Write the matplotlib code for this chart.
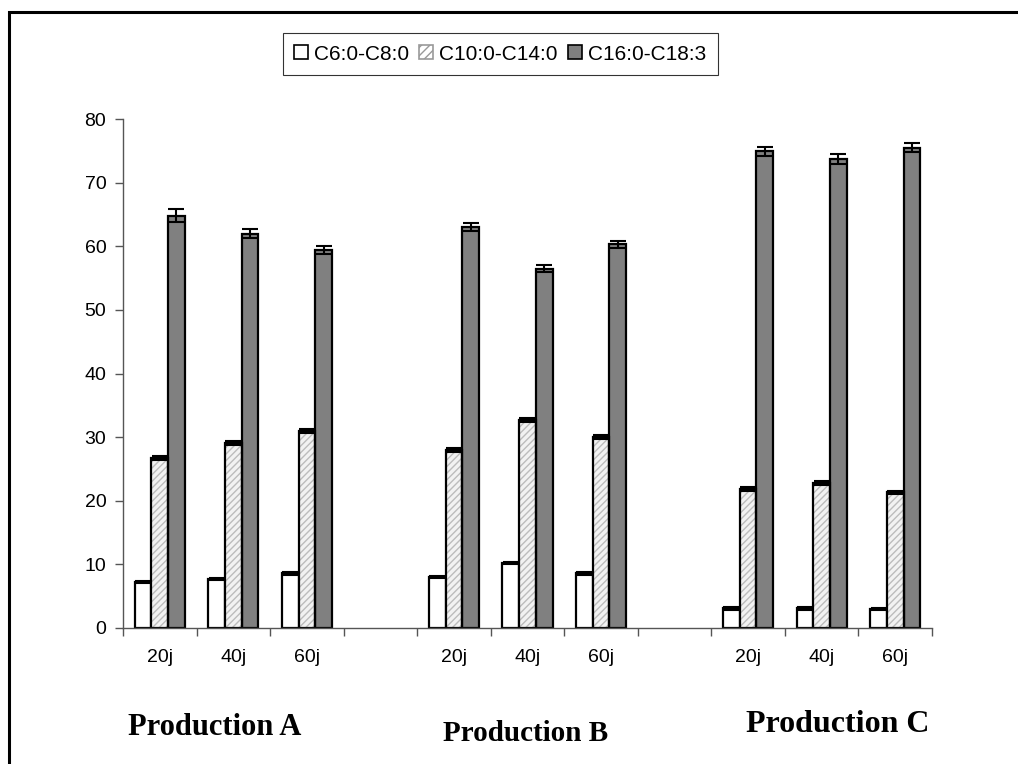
import matplotlib
matplotlib.use("Agg")
import matplotlib.pyplot as plt
from matplotlib.patches import Rectangle, Patch
import numpy as np

categories = ["20j", "40j", "60j", "", "20j", "40j", "60j", "", "20j", "40j", "60j"]
series_names = ["C6:0-C8:0", "C10:0-C14:0", "C16:0-C18:3"]
c6_c8 = [7.2, 7.7, 8.6, np.nan, 8.0, 10.2, 8.6, np.nan, 3.1, 3.1, 3.0]
c10_c14 = [26.7, 29.1, 30.9, np.nan, 28.0, 32.7, 30.0, np.nan, 21.8, 22.8, 21.3]
c16_c18 = [64.8, 62.0, 59.4, np.nan, 63.0, 56.5, 60.3, np.nan, 74.9, 73.7, 75.5]
err_c6 = [0.2, 0.2, 0.2, np.nan, 0.2, 0.2, 0.2, np.nan, 0.2, 0.2, 0.2]
err_c10 = [0.3, 0.3, 0.3, np.nan, 0.3, 0.3, 0.3, np.nan, 0.3, 0.3, 0.3]
err_c16 = [1.0, 0.7, 0.6, np.nan, 0.6, 0.6, 0.6, np.nan, 0.7, 0.8, 0.7]
group_labels = ["Production A", "Production B", "Production C"]
yticks = [0, 10, 20, 30, 40, 50, 60, 70, 80]

W, H = 1018, 764
fig = plt.figure(figsize=(W / 100, H / 100), dpi=100)
ax = fig.add_axes([123 / W, 1 - 628 / H, (932 - 123) / W, (628 - 119) / H])

x = np.arange(len(categories))
w = 0.227
lw = 1.6
ek = dict(ecolor="black", elinewidth=1.5, capsize=6, capthick=1.5, lw=0)

# white bars
ax.bar(x - w, c6_c8, w, facecolor="white", edgecolor="black", linewidth=lw, zorder=2)
ax.errorbar(x - w, c6_c8, yerr=err_c6, fmt="none", zorder=3, **ek)
# hatched bars
ax.bar(x, c10_c14, w, facecolor="#f2f2f2", edgecolor="#bcbcbc", hatch="/////", linewidth=0, zorder=2)
ax.bar(x, c10_c14, w, facecolor="none", edgecolor="black", linewidth=lw, zorder=2.5)
ax.errorbar(x, c10_c14, yerr=err_c10, fmt="none", zorder=3, **ek)
# dark bars
ax.bar(x + w, c16_c18, w, facecolor="#808080", edgecolor="black", linewidth=lw, zorder=2)
ax.errorbar(x + w, c16_c18, yerr=err_c16, fmt="none", zorder=3, **ek)

ax.set_xlim(-0.5, len(categories) - 0.5)
ax.set_ylim(0, 80)
ax.set_yticks(yticks)
ax.set_yticklabels([str(v) for v in yticks], fontsize=14, family="Liberation Sans")
ax.set_xticks(x)
ax.set_xticklabels(categories, fontsize=14, family="Liberation Sans")
ax.set_xticks(np.arange(len(categories) + 1) - 0.5, minor=True)
ax.tick_params(axis="x", which="major", length=0, pad=15)
ax.tick_params(axis="x", which="minor", length=6, width=1, color="#555555", direction="out")
ax.tick_params(axis="y", length=6, width=1, color="#555555", direction="out", pad=6)
for s in ["top", "right"]:
    ax.spines[s].set_visible(False)
for s in ["left", "bottom"]:
    ax.spines[s].set_color("#555555")
    ax.spines[s].set_linewidth(1)

handles = [
    Patch(facecolor="white", edgecolor="black", linewidth=1.2),
    Patch(facecolor="white", edgecolor="#999999", hatch="////", linewidth=1.2),
    Patch(facecolor="#808080", edgecolor="black", linewidth=1.2),
]
leg = fig.legend(handles, series_names, loc="center", bbox_to_anchor=(500 / W, 1 - 54 / H),
                 ncol=3, prop={"family": "Liberation Sans", "size": 15},
                 frameon=True, fancybox=False, shadow=False, edgecolor="black",
                 handlelength=0.65, handleheight=0.65, handletextpad=0.3, columnspacing=0.5,
                 borderpad=0.55, borderaxespad=0)
leg.get_frame().set_linewidth(0.8)

# group labels
pos = [(215, 735, 22), (526, 741, 21), (838, 732, 23)]
for lab, (px, py, fs) in zip(group_labels, pos):
    fig.text(px / W, 1 - py / H, lab, ha="center", va="baseline", fontsize=fs,
             fontweight="bold", family="Liberation Serif")

# figure border
fig.patches.append(Rectangle((9 / W, -0.1), 1.2, 1 - 12 / H + 0.1, transform=fig.transFigure,
                             fill=False, edgecolor="black", linewidth=2.2))

fig.savefig("out.png", dpi=100)
